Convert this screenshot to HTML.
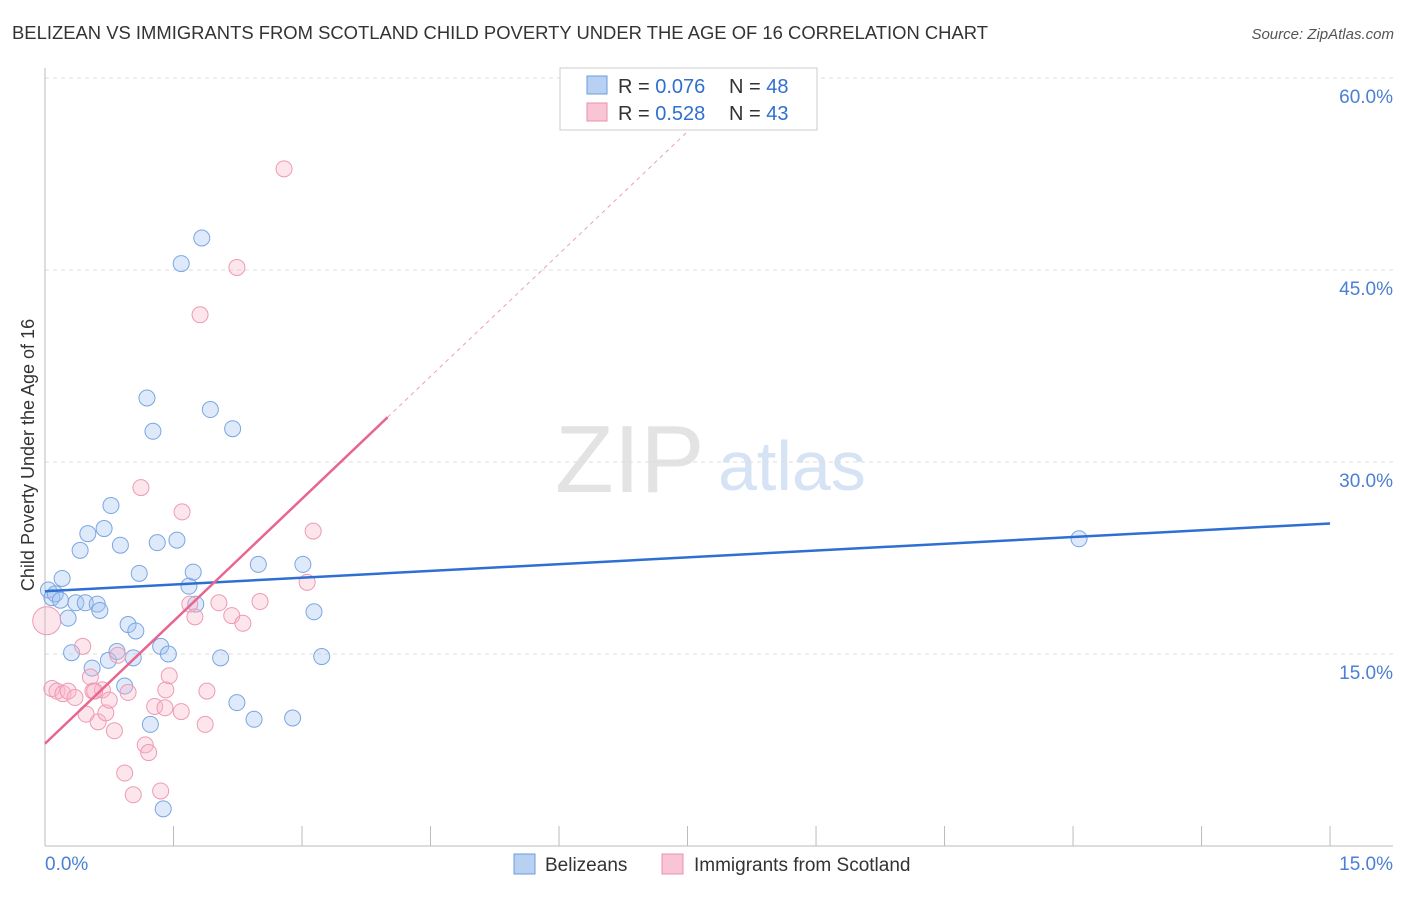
<!DOCTYPE html>
<html><head><meta charset="utf-8"><style>
body{margin:0;background:#fff;font-family:"Liberation Sans",sans-serif;}
svg text{font-family:"Liberation Sans",sans-serif;}
</style></head><body>
<svg id="c" width="1406" height="892">
<text x="12" y="39" font-size="18" fill="#333" textLength="976" lengthAdjust="spacingAndGlyphs">BELIZEAN VS IMMIGRANTS FROM SCOTLAND CHILD POVERTY UNDER THE AGE OF 16 CORRELATION CHART</text>
<text x="1394" y="39" font-size="15" fill="#555" text-anchor="end" font-style="italic">Source: ZipAtlas.com</text>
<text x="34" y="455" font-size="18" fill="#333" text-anchor="middle" transform="rotate(-90 34 455)">Child Poverty Under the Age of 16</text>
<text x="555" y="492" font-size="96" fill="#e3e3e3" font-family="Liberation Serif">ZIP</text>
<text x="718" y="490" font-size="70" fill="#d5e3f5">atlas</text>
<g id="grid"></g><g id="pts"></g><g id="lines"></g>
<g>
<rect x="560" y="68" width="257" height="62" fill="#fff" stroke="#ccc"/>
<rect x="587" y="76" width="20" height="18" fill="#b8d0f2" stroke="#6a9ee0"/>
<rect x="587" y="103" width="20" height="18" fill="#f9c5d5" stroke="#ec8fae"/>
<text x="618" y="93" font-size="20" fill="#333">R = <tspan fill="#2f6fcf">0.076</tspan></text>
<text x="729" y="93" font-size="20" fill="#333">N = <tspan fill="#2f6fcf">48</tspan></text>
<text x="618" y="120" font-size="20" fill="#333">R = <tspan fill="#2f6fcf">0.528</tspan></text>
<text x="729" y="120" font-size="20" fill="#333">N = <tspan fill="#2f6fcf">43</tspan></text>
</g>
<g>
<rect x="514" y="854" width="21" height="20" fill="#b8d0f2" stroke="#6a9ee0"/>
<text x="545" y="871" font-size="19" fill="#333">Belizeans</text>
<rect x="662" y="854" width="21" height="20" fill="#f9c5d5" stroke="#ec8fae"/>
<text x="694" y="871" font-size="19" fill="#333">Immigrants from Scotland</text>
</g>
</svg>
<script>
const yTicks=[15,30,45,60];
const xTickLabels=["0.0%","15.0%"];
const blueX=[0.04,0.08,0.12,0.20,0.18,0.27,0.31,0.36,0.41,0.47,0.50,0.55,0.61,0.64,0.69,0.74,0.77,0.84,0.88,0.93,0.97,1.03,1.06,1.10,1.19,1.23,1.26,1.31,1.35,1.38,1.44,1.54,1.59,1.68,1.73,1.76,1.83,1.93,2.05,2.19,2.24,2.44,2.49,2.89,3.01,3.14,3.23,12.07];
const blueY=[20.0,19.4,19.7,20.9,19.2,17.8,15.1,19.0,23.1,19.0,24.4,13.9,18.9,18.4,24.8,14.5,26.6,15.2,23.5,12.5,17.3,14.7,16.8,21.3,35.0,9.5,32.4,23.7,15.6,2.9,15.0,23.9,45.5,20.3,21.4,18.9,47.5,34.1,14.7,32.6,11.2,9.9,22.0,10.0,22.0,18.3,14.8,24.0];
const pinkX=[0.02,0.08,0.14,0.21,0.27,0.35,0.44,0.48,0.53,0.56,0.62,0.67,0.71,0.75,0.81,0.85,0.93,0.97,1.03,1.12,1.17,1.21,1.28,1.35,1.41,1.45,1.59,1.60,1.69,1.75,1.81,1.87,1.89,2.03,2.18,2.24,2.31,2.51,2.79,3.06,3.13,0.58,1.40];
const pinkY=[17.6,12.3,12.1,11.9,12.1,11.6,15.6,10.3,13.2,12.1,9.7,12.2,10.4,11.4,9.0,14.9,5.7,12.0,4.0,28.0,7.9,7.3,10.9,4.3,12.2,13.3,10.5,26.1,18.9,17.9,41.5,9.5,12.1,19.0,18.0,45.2,17.4,19.1,52.9,20.6,24.6,12.1,10.8];
const blueLine=[19.9,25.2], pinkLine=[8.0,33.5];
const NS="http://www.w3.org/2000/svg";
const X=v=>45+v*85.67, Y=v=>846-v*12.8;
function mk(t,a,p){const e=document.createElementNS(NS,t);for(const k in a)e.setAttribute(k,a[k]);p.appendChild(e);return e;}
const g=document.getElementById('grid');
yTicks.forEach(t=>{
 const l=mk('line',{x1:45,x2:1393,y1:Y(t),y2:Y(t),stroke:'#ddd','stroke-dasharray':'4,4'},g);
 
 
 const tx=mk('text',{x:1393,y:Y(t)+25,'font-size':19,fill:'#4a7fd4','text-anchor':'end'},g);
 tx.textContent=t.toFixed(1)+'%';
 
 
});
mk('line',{x1:45,x2:45,y1:68,y2:846,stroke:'#bbb'},g);
mk('line',{x1:45,x2:1393,y1:846,y2:846,stroke:'#bbb'},g);
for(let i=0;i<=10;i++){mk('line',{x1:X(i*1.5),x2:X(i*1.5),y1:826,y2:846,stroke:'#bbb'},g);}
[[0,45,'start'],[1,1393,'end']].forEach(([i,x,a])=>{
 const t=mk('text',{x:x,y:870,'font-size':19,fill:'#4a7fd4','text-anchor':a},g);
 t.textContent=xTickLabels[i];
 
 
});
const p=document.getElementById('pts');
blueX.forEach((x,i)=>{
 const c=mk('circle',{cx:X(x),cy:Y(blueY[i]),r:8,fill:'rgba(160,195,240,0.35)',stroke:'#7aa6e2','stroke-width':1},p);
 
 
});
pinkX.forEach((x,i)=>{
 const c=mk('circle',{cx:X(x),cy:Y(pinkY[i]),r:i==0?14:8,fill:'rgba(248,180,200,0.35)',stroke:'#ee9ab5','stroke-width':1},p);
 
 
});
const L=document.getElementById('lines');
const bl=mk('line',{x1:X(0),y1:Y(blueLine[0]),x2:X(15),y2:Y(blueLine[1]),stroke:'#2d6fd2','stroke-width':2.5},L);


const sl=(pinkLine[1]-pinkLine[0])/4;
const pl=mk('line',{x1:X(0),y1:Y(pinkLine[0]),x2:X(4),y2:Y(pinkLine[1]),stroke:'#e8658f','stroke-width':2.5},L);


const xe=(60.5-pinkLine[0])/sl;
const pd=mk('line',{x1:X(4),y1:Y(pinkLine[1]),x2:X(xe),y2:Y(60.5),stroke:'#eaa0b8','stroke-width':1,'stroke-dasharray':'4,4'},L);


</script>
</body></html>
